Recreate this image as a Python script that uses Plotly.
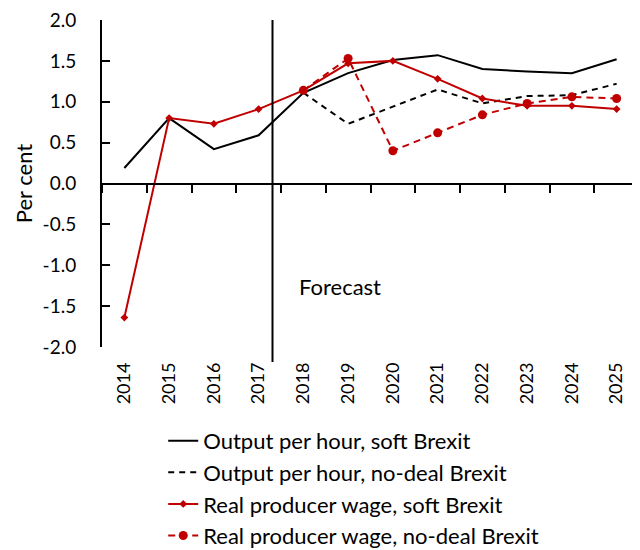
import plotly.graph_objects as go

years = ["2014", "2015", "2016", "2017", "2018", "2019", "2020", "2021", "2022", "2023", "2024", "2025"]
output_soft = [0.19, 0.80, 0.42, 0.59, 1.11, 1.35, 1.51, 1.57, 1.40, 1.37, 1.35, 1.52]
output_nodeal = [None, None, None, None, 1.11, 0.73, 0.94, 1.15, 0.98, 1.07, 1.08, 1.22]
wage_soft = [-1.64, 0.80, 0.73, 0.91, 1.14, 1.47, 1.50, 1.28, 1.04, 0.95, 0.95, 0.91]
wage_nodeal = [None, None, None, None, 1.14, 1.53, 0.40, 0.62, 0.84, 0.98, 1.06, 1.04]
y_ticks = [-2.0, -1.5, -1.0, -0.5, 0.0, 0.5, 1.0, 1.5, 2.0]

RED = "#C00000"
FONT = "Lato"

fig = go.Figure()
fig.add_trace(go.Scatter(x=years, y=output_soft, mode="lines", name="Output per hour, soft Brexit",
                         line=dict(color="black", width=2), legendgroup="a"))
fig.add_trace(go.Scatter(x=years, y=output_nodeal, mode="lines", name="Output per hour, no-deal Brexit",
                         line=dict(color="black", width=2, dash="6px,5px"), legendgroup="b"))
fig.add_trace(go.Scatter(x=years, y=wage_soft, mode="lines+markers", name="Real producer wage, soft Brexit",
                         line=dict(color=RED, width=2), marker=dict(symbol="diamond", size=6, color=RED),
                         legendgroup="c"))
fig.add_trace(go.Scatter(x=years, y=wage_nodeal, mode="lines+markers", name="Real producer wage, no-deal Brexit",
                         line=dict(color=RED, width=2, dash="7px,5px"), marker=dict(symbol="circle", size=9, color=RED),
                         legendgroup="d"))

# secondary axis drawn at y = 0 carrying the category-boundary ticks
fig.add_trace(go.Scatter(x=[-0.5, 11.5], y=[None, None], xaxis="x2", showlegend=False, hoverinfo="skip"))

fig.update_layout(
    width=632, height=542,
    margin=dict(l=94, r=1, t=12, b=203),
    paper_bgcolor="white", plot_bgcolor="white",
    font=dict(family=FONT, size=18, color="black"),
    showlegend=True,
    legend=dict(x=0.114, xanchor="left", xref="paper", y=0.240, yanchor="top", yref="container",
                traceorder="grouped", tracegroupgap=0, font=dict(size=22), bgcolor="rgba(0,0,0,0)"),
    xaxis=dict(type="category", categoryorder="array", categoryarray=years, range=[-0.5, 11.5],
               showline=False, ticks="", tickangle=-90, showgrid=False, zeroline=False,
               ticklabelstandoff=11, tickfont=dict(size=18), automargin=False),
    xaxis2=dict(overlaying="x", anchor="free", position=0.5, range=[-0.5, 11.5], showgrid=False,
                zeroline=False, showline=True, linecolor="black", linewidth=2,
                tickmode="array", tickvals=[i - 0.5 for i in range(13)], ticks="outside",
                ticklen=8, tickwidth=2, tickcolor="black", showticklabels=False, side="bottom",
                automargin=False),
    yaxis=dict(range=[-2.0, 2.0], tickvals=y_ticks, ticktext=[f"{v:.1f}" for v in y_ticks],
               showline=True, linecolor="black", linewidth=2, ticks="inside", ticklen=8,
               tickwidth=2, tickcolor="black", showgrid=False, zeroline=False,
               ticklabelstandoff=20, tickfont=dict(size=19), automargin=False,
               ticklabeloverflow="allow",
               title=dict(text="Per cent", font=dict(size=22), standoff=4)),
)

fig.add_shape(type="line", xref="x", yref="paper", x0=3.31, x1=3.31, y0=-0.046, y1=1.0,
              line=dict(color="black", width=2))
fig.add_annotation(xref="x", yref="y", x=3.86, y=-1.26, text="Forecast", showarrow=False,
                   xanchor="left", yanchor="middle", font=dict(size=22, family=FONT))

fig.write_html("out.html")
